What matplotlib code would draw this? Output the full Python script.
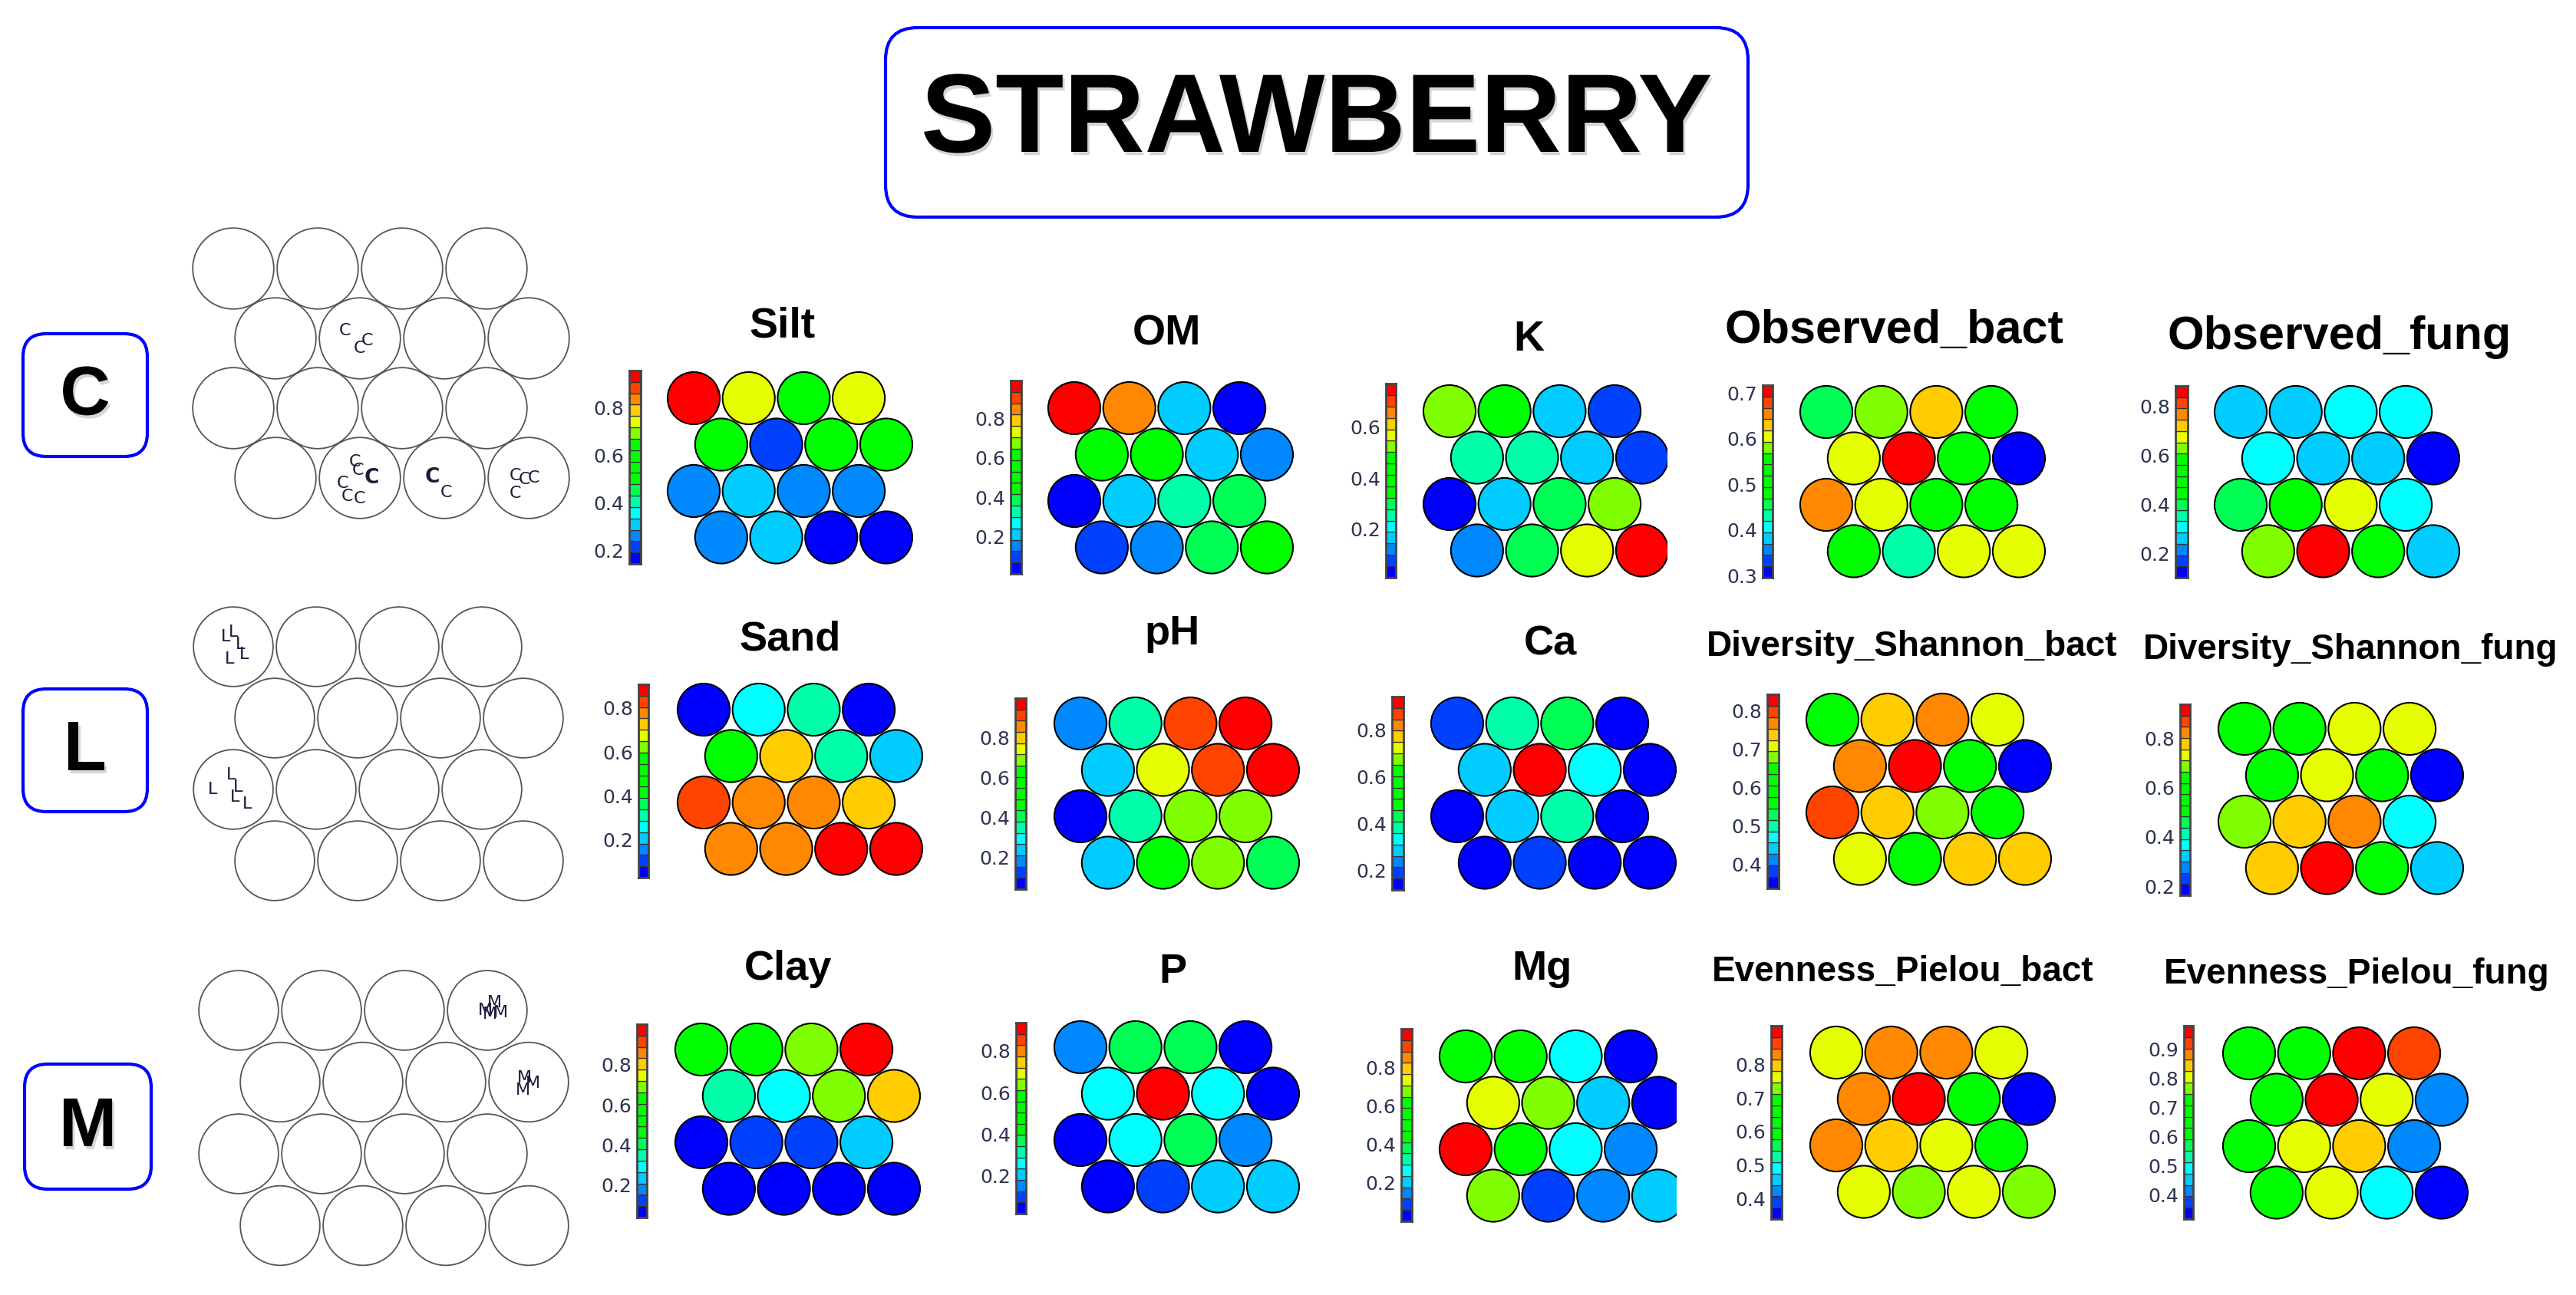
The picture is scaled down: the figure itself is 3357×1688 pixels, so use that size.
import matplotlib
matplotlib.use('Agg')
import matplotlib.pyplot as plt
from matplotlib.patches import Circle, FancyBboxPatch
from matplotlib.colors import ListedColormap, Normalize
import matplotlib.patheffects as pe

W, H = 3357, 1688
DPI = 100

# ---------------- data ----------------
main_title = "STRAWBERRY"
groups = ["C", "L", "M"]

# discrete blue -> red palette used by the SOM property maps (17 steps)
palette = ['#0000FF', '#0040FF', '#0088FF', '#00CCFF', '#00FFFF', '#00FFAA', '#00FF55',
           '#00FF00', '#00FF00', '#00FF00', '#00FF00', '#80FF00', '#E6FF00', '#FFCC00',
           '#FF8800', '#FF4400', '#FF0000']

# node values of the 4x4 hexagonal SOM, top row first, left to right
silt = [0.958, 0.74, 0.55, 0.75, 0.55, 0.22, 0.56, 0.55,
        0.27, 0.31, 0.26, 0.27, 0.26, 0.32, 0.145, 0.15]
om = [0.99, 0.85, 0.22, 0.014, 0.50, 0.50, 0.21, 0.16,
      0.02, 0.22, 0.33, 0.39, 0.10, 0.16, 0.39, 0.50]
k = [0.52, 0.39, 0.17, 0.08, 0.26, 0.26, 0.17, 0.08,
     0.01, 0.17, 0.30, 0.52, 0.12, 0.30, 0.57, 0.77]
observed_bact = [0.46, 0.58, 0.63, 0.51, 0.605, 0.717, 0.50, 0.295,
                 0.655, 0.60, 0.51, 0.505, 0.50, 0.43, 0.605, 0.60]
observed_fung = [0.26, 0.265, 0.31, 0.31, 0.31, 0.26, 0.265, 0.103,
                 0.40, 0.49, 0.68, 0.31, 0.63, 0.884, 0.49, 0.26]
sand = [0.029, 0.26, 0.31, 0.03, 0.47, 0.73, 0.32, 0.21,
        0.83, 0.78, 0.78, 0.73, 0.78, 0.77, 0.90, 0.908]
ph = [0.18, 0.35, 0.92, 1.0, 0.24, 0.75, 0.91, 0.99,
      0.04, 0.35, 0.69, 0.69, 0.24, 0.52, 0.69, 0.41]
ca = [0.19, 0.39, 0.43, 0.12, 0.29, 0.944, 0.34, 0.118,
      0.12, 0.29, 0.38, 0.12, 0.118, 0.19, 0.12, 0.12]
shannon_bact = [0.59, 0.74, 0.77, 0.71, 0.77, 0.844, 0.59, 0.338,
                0.80, 0.74, 0.68, 0.59, 0.71, 0.59, 0.74, 0.74]
shannon_fung = [0.55, 0.55, 0.73, 0.73, 0.55, 0.73, 0.55, 0.163,
                0.69, 0.78, 0.82, 0.37, 0.78, 0.937, 0.55, 0.32]
clay = [0.52, 0.52, 0.69, 1.0, 0.35, 0.29, 0.69, 0.80,
        0.04, 0.12, 0.13, 0.24, 0.04, 0.045, 0.04, 0.05]
p = [0.15, 0.37, 0.37, 0.015, 0.26, 0.937, 0.26, 0.02,
     0.02, 0.26, 0.37, 0.15, 0.02, 0.10, 0.20, 0.21]
mg = [0.50, 0.50, 0.26, 0.0, 0.74, 0.68, 0.21, 0.01,
      1.0, 0.50, 0.27, 0.15, 0.68, 0.09, 0.15, 0.21]
pielou_bact = [0.76, 0.83, 0.83, 0.76, 0.83, 0.917, 0.63, 0.338,
               0.83, 0.80, 0.76, 0.63, 0.76, 0.73, 0.765, 0.73]
pielou_fung = [0.65, 0.65, 0.98, 0.92, 0.65, 0.975, 0.80, 0.42,
               0.65, 0.80, 0.84, 0.41, 0.65, 0.80, 0.49, 0.318]

titles = [["Silt", "OM", "K", "Observed_bact", "Observed_fung"],
          ["Sand", "pH", "Ca", "Diversity_Shannon_bact", "Diversity_Shannon_fung"],
          ["Clay", "P", "Mg", "Evenness_Pielou_bact", "Evenness_Pielou_fung"]]
values = [[silt, om, k, observed_bact, observed_fung],
          [sand, ph, ca, shannon_bact, shannon_fung],
          [clay, p, mg, pielou_bact, pielou_fung]]
t5 = [0.2, 0.4, 0.6, 0.8]
ticks = [[t5, t5, [0.2, 0.4, 0.6], [0.3, 0.4, 0.5, 0.6, 0.7], t5],
         [t5, t5, t5, [0.4, 0.5, 0.6, 0.7, 0.8], t5],
         [t5, t5, t5, [0.4, 0.5, 0.6, 0.7, 0.8], [0.4, 0.5, 0.6, 0.7, 0.8, 0.9]]]

# sample labels mapped on the SOM nodes (node index, dx, dy, bold)
samples_C = [(5, -0.18, 0.09, False), (5, 0.0, -0.12, False), (5, 0.09, -0.03, False),
             (13, -0.06, 0.19, False), (13, 0.14, 0.0, True), (13, -0.2, -0.06, False),
             (13, -0.02, 0.09, False), (13, -0.15, -0.22, False), (13, 0.0, -0.25, False),
             (14, -0.14, 0.01, True), (14, 0.02, -0.17, False),
             (15, -0.16, 0.03, False), (15, -0.05, -0.02, False), (15, 0.06, 0.0, False),
             (15, -0.16, -0.18, False)]
samples_L = [(0, -0.09, 0.12, False), (0, 0.0, 0.18, False), (0, 0.08, 0.03, False),
             (0, 0.13, -0.09, False), (0, -0.05, -0.15, False),
             (8, -0.25, 0.0, False), (8, -0.03, 0.18, False), (8, 0.02, -0.09, False),
             (8, 0.06, 0.03, False), (8, 0.17, -0.18, False)]
samples_M = [(3, -0.02, 0.0, False), (3, 0.09, 0.09, False), (3, 0.16, -0.03, False),
             (3, 0.03, -0.05, False),
             (7, -0.05, 0.05, False), (7, 0.05, -0.01, False), (7, -0.07, -0.1, False)]
samples = [samples_C, samples_L, samples_M]

# ---------------- layout (pixels) ----------------
node0 = [[(904, 519), (1400, 532), (1889, 536), (2380, 537), (2920, 537)],
         [(917, 925), (1408, 943), (1899, 943), (2388, 938), (2925, 950)],
         [(914, 1368), (1408, 1365), (1910, 1377), (2393, 1372), (2931, 1373)]]
cbar_box = [[(820, 835, 483, 735), (1317, 1331, 496, 748), (1806, 1819, 500, 753),
             (2297, 2310, 502, 753), (2835, 2851, 503, 753)],
            [(832, 845, 892, 1144), (1323, 1337, 910, 1159), (1814, 1829, 908, 1160),
             (2303, 2318, 905, 1158), (2841, 2854, 918, 1167)],
            [(830, 843, 1335, 1587), (1324, 1337, 1333, 1582), (1826, 1840, 1341, 1592),
             (2308, 2322, 1337, 1589), (2846, 2858, 1337, 1589)]]
title_pos = [[(1019, 425), (1521, 436), (1992, 443), (2468, 432), (3049, 440)],
             [(1030, 834), (1528, 826), (2020, 840), (2492, 843), (3063, 847)],
             [(1027, 1263), (1528, 1267), (2010, 1263), (2480, 1267), (3071, 1270)]]
title_size = [[40, 40, 40, 44, 44], [39, 39, 39, 33, 33], [39, 39, 39, 33, 33]]
xclip = {(0, 2): 3.96, (2, 2): 3.84}

grid_pos = [(304, 350, 110, 91), (304, 843, 108, 93), (311, 1317, 108, 93.5)]
group_box = [(30, 435, 162, 160), (30, 898, 162, 160), (32, 1387, 165, 163)]

BOLD = ['Liberation Sans', 'DejaVu Sans']
cmap = ListedColormap(palette)

fig = plt.figure(figsize=(W / DPI, H / DPI), dpi=DPI)
fig.patch.set_facecolor('white')

ov = fig.add_axes([0, 0, 1, 1])
ov.set_xlim(0, W)
ov.set_ylim(H, 0)
ov.axis('off')

shadow = [pe.SimplePatchShadow(offset=(2, -3), shadow_rgbFace='#888888', alpha=0.35), pe.Normal()]

# main title box
ov.add_patch(FancyBboxPatch((1154, 36), 1124, 247, boxstyle='round,pad=0,rounding_size=42',
                            facecolor='white', edgecolor='#0000FF', linewidth=3))
ov.text(1716, 160, main_title, family=BOLD, fontweight='bold', fontsize=105,
        ha='center', va='center', color='black', path_effects=shadow)

# group label boxes
for g, (bx, by, bw, bh) in zip(groups, group_box):
    ov.add_patch(FancyBboxPatch((bx, by), bw, bh, boxstyle='round,pad=0,rounding_size=30',
                                facecolor='white', edgecolor='#0000FF', linewidth=3))
    ov.text(bx + bw / 2, by + bh / 2 + 2, g, family=BOLD, fontweight='bold', fontsize=65,
            ha='center', va='center', color='black', path_effects=shadow)


def hex_axes(cx, cy, unit, rowf, xmax=None, pad=0.62):
    xmin = -pad
    xm = 3.5 + pad if xmax is None else xmax
    ymax = pad
    ymin = -3 * rowf - pad
    x0, x1 = cx + xmin * unit, cx + xm * unit
    y0, y1 = cy - ymax * unit, cy - ymin * unit
    ax = fig.add_axes([x0 / W, 1 - y1 / H, (x1 - x0) / W, (y1 - y0) / H])
    ax.set_xlim(xmin, xm)
    ax.set_ylim(ymin, ymax)
    ax.axis('off')
    return ax


def hex_xy(rowf):
    xs = [c + 0.5 * (r % 2) for r in range(4) for c in range(4)]
    ys = [-r * rowf for r in range(4) for c in range(4)]
    return xs, ys


# left mapping grids with sample labels
for g, (cx, cy, unit, rowpx), samp in zip(groups, grid_pos, samples):
    rowf = rowpx / unit
    ax = hex_axes(cx, cy, unit, rowf)
    xs, ys = hex_xy(rowf)
    for x, y in zip(xs, ys):
        ax.add_patch(Circle((x, y), 0.48, facecolor='white', edgecolor='#555555', linewidth=1.3))
    for idx, dx, dy, bold in samp:
        ax.text(xs[idx] + dx, ys[idx] + dy, g, fontsize=19 if bold else 16,
                fontweight='bold' if bold else 'normal', family=['DejaVu Sans'],
                ha='center', va='center', color='#1c1c3c')

# property maps
UNIT = 71.7
ROWF = 60.5 / 71.7
for r in range(3):
    for c in range(5):
        vals = values[r][c]
        vmin, vmax = min(vals), max(vals)
        norm = Normalize(vmin, vmax)
        cx, cy = node0[r][c]
        ax = hex_axes(cx, cy, UNIT, ROWF, xmax=xclip.get((r, c)))
        xs, ys = hex_xy(ROWF)
        for x, y, v in zip(xs, ys, vals):
            ax.add_patch(Circle((x, y), 0.475, facecolor=cmap(norm(v)),
                                edgecolor='black', linewidth=1.5))
        # colour key
        bx0, bx1, by0, by1 = cbar_box[r][c]
        cax = fig.add_axes([bx0 / W, 1 - by1 / H, (bx1 - bx0) / W, (by1 - by0) / H])
        step = (vmax - vmin) / len(palette)
        for i, col in enumerate(palette):
            cax.bar(0.5, step, bottom=vmin + i * step, width=1.0, color=col,
                    edgecolor='#333333', linewidth=0.9)
        cax.set_xlim(0, 1)
        cax.set_ylim(vmin, vmax)
        cax.set_xticks([])
        cax.set_yticks(ticks[r][c])
        cax.set_yticklabels([f"{t:.1f}" for t in ticks[r][c]])
        cax.tick_params(axis='y', length=0, pad=5, labelsize=18, labelcolor='#2c3450')
        for sp in cax.spines.values():
            sp.set_color('#444444')
            sp.set_linewidth(2)
        # title
        tx, ty = title_pos[r][c]
        ov.text(tx, ty, titles[r][c], family=BOLD, fontweight='bold',
                fontsize=title_size[r][c], ha='center', va='center', color='black')

fig.savefig('out.png', dpi=DPI)
